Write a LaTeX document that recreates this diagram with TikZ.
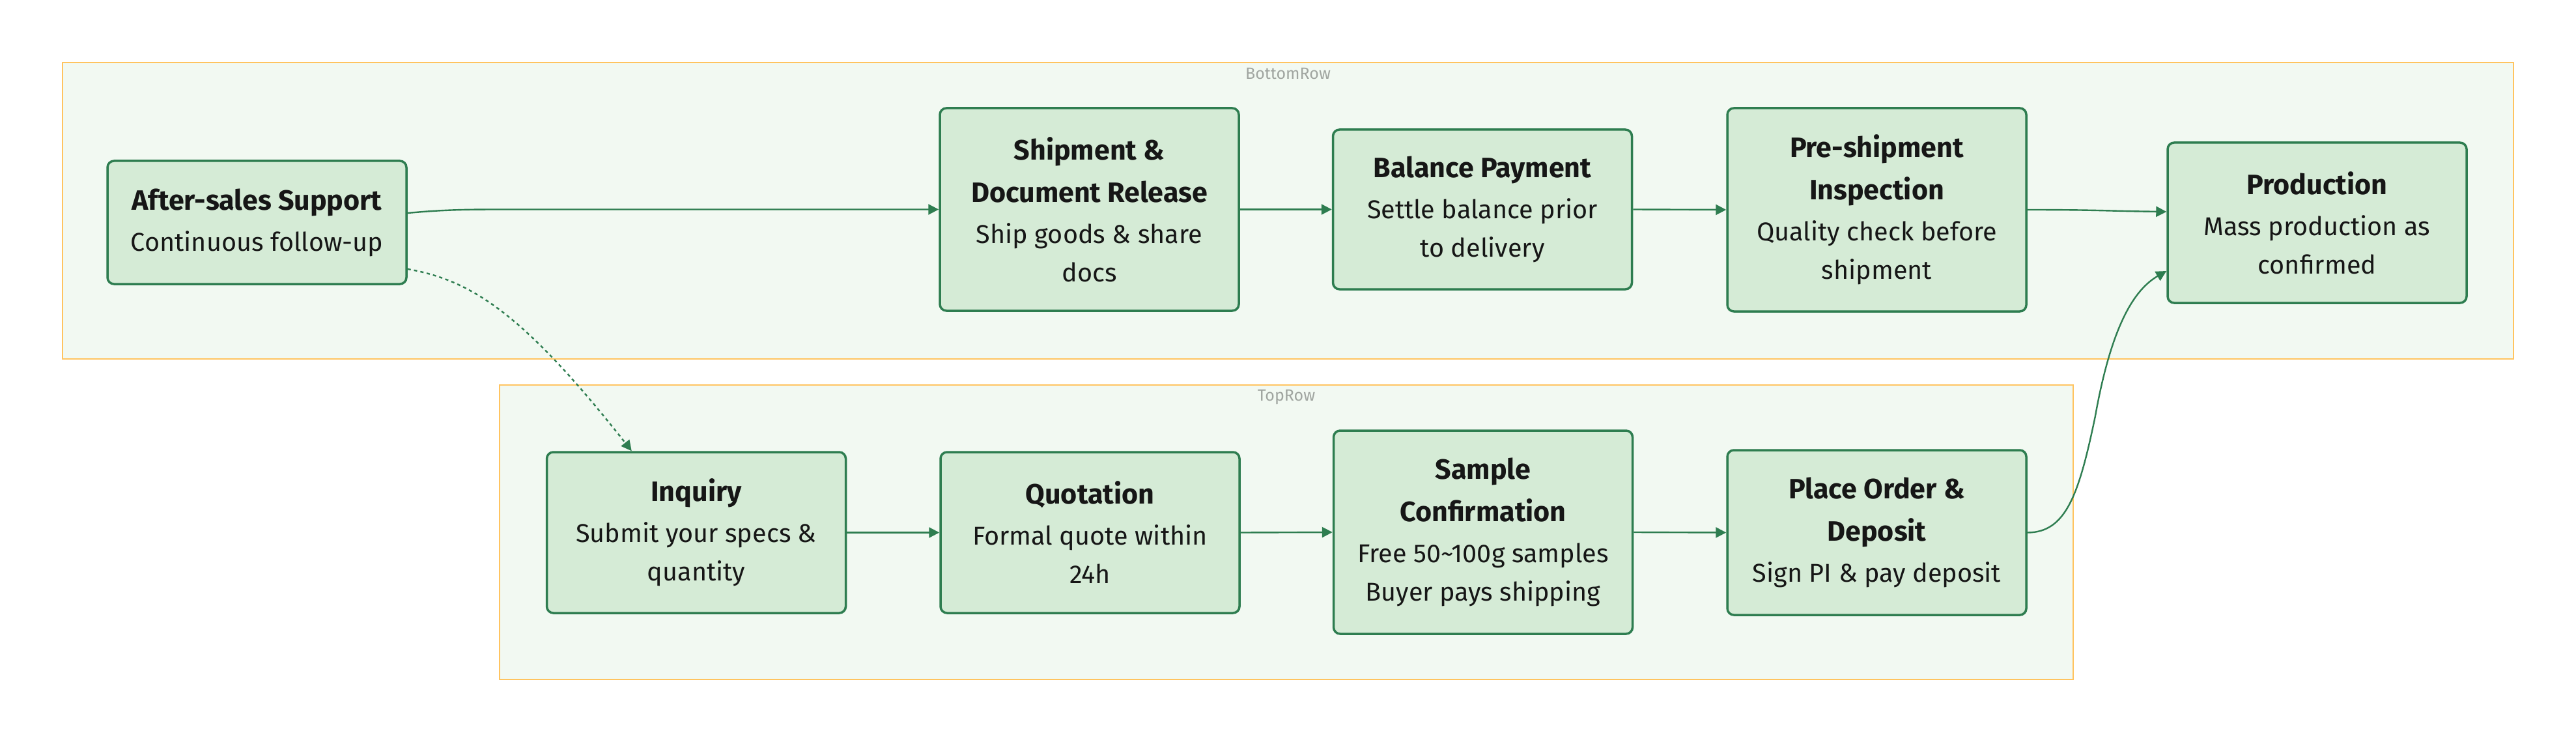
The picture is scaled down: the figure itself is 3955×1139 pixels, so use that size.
\documentclass[tikz,border=0pt]{standalone}
\usepackage{fontspec}
\setmainfont{Fira Sans}
\usetikzlibrary{arrows.meta,calc}
\definecolor{nodefill}{RGB}{213,235,214}
\definecolor{nodeline}{RGB}{46,125,80}
\definecolor{clfill}{RGB}{242,249,242}
\definecolor{clline}{RGB}{255,196,96}
\definecolor{cltext}{RGB}{160,165,160}
\definecolor{txt}{RGB}{22,22,22}
\newcommand\steptitle[1]{{\fontsize{21.5}{30}\selectfont\bfseries #1}}
\tikzset{
  stepbox/.style={draw=nodeline, fill=nodefill, line width=1.75pt, rounded corners=5pt,
    minimum width=229.5pt, inner sep=0pt, align=center, text=txt,
    font=\fontsize{19.8}{29.5}\selectfont},
  cluster/.style={draw=clline, fill=clfill, line width=1pt},
  cllabel/.style={text=cltext, inner sep=0pt, font=\fontsize{12.5}{14}\selectfont},
  edge/.style={draw=nodeline, line width=1.2pt, -{Triangle[length=8pt,width=8pt]}},
  dotedge/.style={edge, dash pattern=on 2.5pt off 2.5pt},
}
\begin{document}
\begin{tikzpicture}[x=0.5pt,y=-0.5pt]
\useasboundingbox (0,0) rectangle (3955,1139);
% clusters
\draw[cluster] (96,96) rectangle (3859,551);
\node[cllabel] (lblbottom) at (1977.5,113) {BottomRow};
\draw[cluster] (767,591) rectangle (3183,1043);
\node[cllabel] (lbltop) at (1975,610) {TopRow};
% nodes bottom row
\node[stepbox, minimum height=94.5pt] (as) at (394.5,341.5)
  {\steptitle{After-sales Support}\\[2pt]Continuous follow-up};
\node[stepbox, minimum height=155.5pt] (ship) at (1672.5,321.5)
  {\steptitle{Shipment \&}\\[3pt]\steptitle{Document Release}\\[2pt]Ship goods \& share\\docs};
\node[stepbox, minimum height=122.5pt] (bal) at (2276,321.5)
  {\steptitle{Balance Payment}\\[2pt]Settle balance prior\\to delivery};
\node[stepbox, minimum height=156pt] (pre) at (2881.5,322)
  {\steptitle{Pre-shipment}\\[3pt]\steptitle{Inspection}\\[2pt]Quality check before\\shipment};
\node[stepbox, minimum height=123pt] (prod) at (3557.5,342)
  {\steptitle{Production}\\[2pt]Mass production as\\confirmed};
% nodes top row
\node[stepbox, minimum height=123.5pt] (inq) at (1069,817.5)
  {\steptitle{Inquiry}\\[2pt]Submit your specs \&\\quantity};
\node[stepbox, minimum height=123.5pt] (quo) at (1673.5,817.5)
  {\steptitle{Quotation}\\[2pt]Formal quote within\\24h};
\node[stepbox, minimum height=156pt] (samp) at (2277,817)
  {\steptitle{Sample}\\[3pt]\steptitle{Confirmation}\\[2pt]Free 50\textasciitilde100g samples\\Buyer pays shipping};
\node[stepbox, minimum height=126.5pt] (place) at (2881.5,817.5)
  {\steptitle{Place Order \&}\\[3pt]\steptitle{Deposit}\\[2pt]Sign PI \& pay deposit};
% edges
\draw[edge] ($(as.east)+(0,-14.5)$) .. controls ($(as.east)+(50,-19)$) and ($(as.east)+(80,-20)$) .. ($(as.east)+(140,-20)$) -- (ship.west);
\draw[dotedge] ($(as.east)+(0,71.5)$) .. controls ($(as.east)+(97,88.5)$) and ($(as.east)+(177,138.5)$) .. ($(inq.north west)+(132,0)$);
\draw[edge] (ship.east) -- (bal.west);
\draw[edge] (bal.east) -- (pre.west);
\draw[edge] (pre.east) .. controls ($(pre.east)+(110,0)$) and ($(prod.west)+(-90,-18)$) .. ($(prod.west)+(0,-17)$);
\draw[edge] (inq.east) -- (quo.west);
\draw[edge] (quo.east) -- (samp.west);
\draw[edge] (samp.east) -- (place.west);
\draw[edge] (place.east) .. controls ($(place.east)+(59,0)$) and ($(place.east)+(79,-58)$) .. ($(place.east)+(104,-178)$)
  .. controls ($(place.east)+(129,-318)$) and ($(place.east)+(164,-373)$) .. ($(prod.west)+(0,74)$);
\end{tikzpicture}
\end{document}
